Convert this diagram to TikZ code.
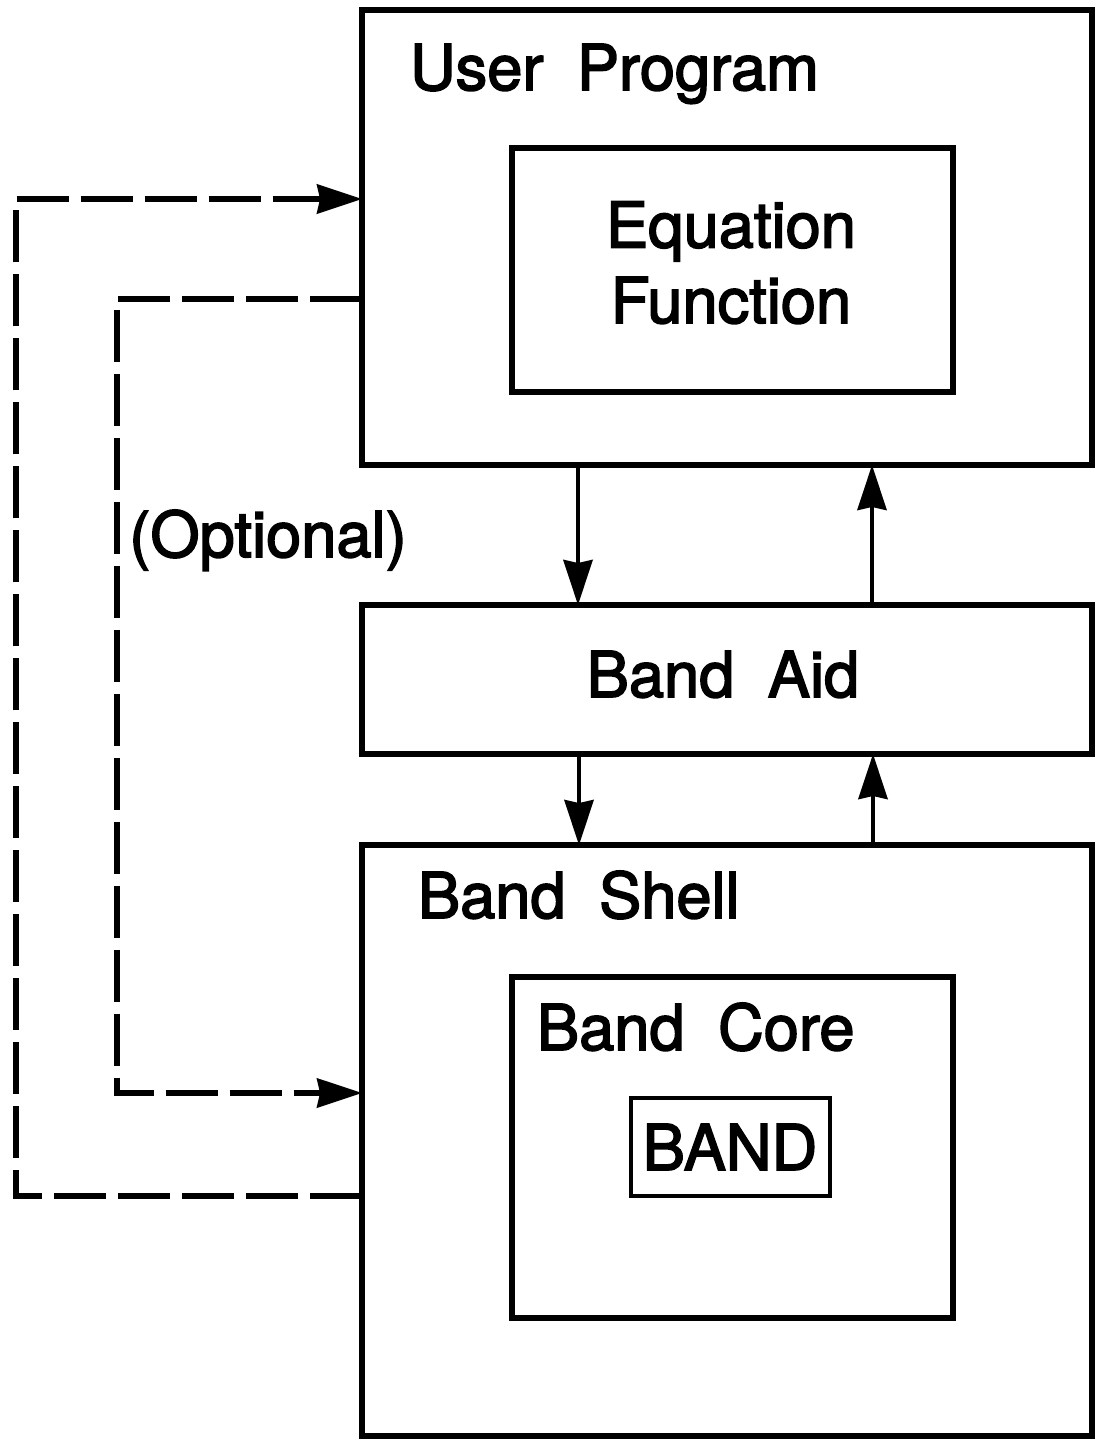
\documentclass[tikz,border=0pt]{standalone}
\usepackage{fontspec}
\setmainfont[WordSpace=1.9, BoldFont={TeX Gyre Heros}, BoldFeatures={FakeBold=2.5}]{TeX Gyre Heros}
\usetikzlibrary{arrows.meta}
\begin{document}
\begin{tikzpicture}[x=0.02cm, y=-0.02cm,
  font=\fontsize{36pt}{43pt}\selectfont\bfseries,
  blk/.style={draw, line width=3.1pt, inner sep=0pt, outer sep=0pt},
  lbl/.style={inner sep=0pt, outer sep=0pt},
  arr/.style={line width=2.6pt, -{Stealth[length=0.9cm, width=0.58cm, inset=0.06cm]}},
  dsh/.style={line width=2.9pt, dash pattern=on 1.04cm off 0.24cm},
  dsharr/.style={dsh, -{Stealth[length=0.9cm, width=0.58cm, inset=0.06cm]}}]
  \useasboundingbox (0,0) rectangle (1102,1444);

  % main blocks
  \node[blk, minimum width=14.6cm, minimum height=9.1cm]  (user)  at (727,237.5) {};
  \node[blk, minimum width=8.82cm, minimum height=4.88cm] (eqn)   at (732.5,270) {};
  \node[blk, minimum width=14.6cm, minimum height=2.98cm] (aid)   at (727,679.5) {};
  \node[blk, minimum width=14.6cm, minimum height=11.82cm](shell) at (727,1140.5) {};
  \node[blk, minimum width=8.82cm, minimum height=6.82cm] (core)  at (732.5,1147.5) {};
  \node[draw, line width=2.5pt, inner sep=0pt, minimum width=3.98cm, minimum height=1.96cm] (band) at (730.5,1147) {};

  % labels
  \node[lbl, anchor=base west] (tuser)  at (410,90)  {User Program};
  \node[lbl, align=center, anchor=base] (teqn) at (731,323) {Equation\\Function};
  \node[lbl, anchor=base] (taid)   at (723,697)  {Band Aid};
  \node[lbl, anchor=base west] (tshell) at (418,918) {Band Shell};
  \node[lbl, anchor=base west] (tcore)  at (537,1050) {Band Core};
  \node[lbl, anchor=base] (tband)  at (730,1170) {BAND};
  \node[lbl, anchor=base] (topt)   at (268,557)  {(Optional)};

  % call / return paths
  \draw[arr] (user.south -| 578,0) -- (aid.north -| 578,0);
  \draw[arr] (aid.north -| 872,0) -- (user.south -| 872,0);
  \draw[arr] (aid.south -| 579,0) -- (shell.north -| 579,0);
  \draw[arr] (shell.north -| 873,0) -- (aid.south -| 873,0);

  % optional direct paths
  \coordinate (o1) at (16,1196);
  \coordinate (o2) at (16,199);
  \coordinate (i1) at (117,299);
  \coordinate (i2) at (117,1093);
  \draw[dsharr] (shell.west |- o1) -- (o1) -- (o2) -- (user.west |- o2);
  \draw[dsharr] (user.west |- i1) -- (i1) -- (i2) -- (shell.west |- i2);
\end{tikzpicture}
\end{document}
